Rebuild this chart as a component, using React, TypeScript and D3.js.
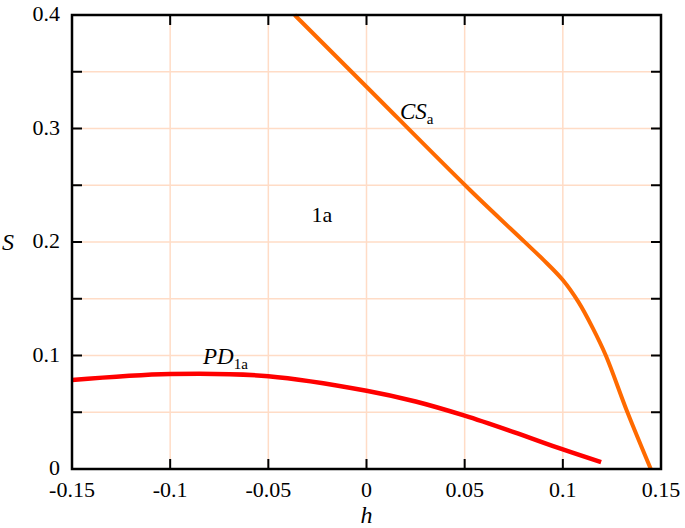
import { useRef, useEffect } from "react";
import * as d3 from "d3";

// CS_a boundary (h, S)
const csH = [-0.0366, 0.0, 0.0527, 0.0804, 0.09, 0.1, 0.108, 0.115, 0.1219, 0.1329, 0.1448];
const csS = [0.4, 0.3368, 0.2458, 0.2003, 0.1845, 0.1665, 0.147, 0.125, 0.1, 0.05, 0.0];

// PD_1a boundary (h, S)
const pdH = [-0.15, -0.1, -0.05, 0.0, 0.025, 0.05, 0.075, 0.1, 0.1195];
const pdS = [0.0784, 0.0837, 0.0818, 0.069, 0.0595, 0.047, 0.0325, 0.0172, 0.006];

const xTicks = [-0.15, -0.1, -0.05, 0, 0.05, 0.1, 0.15];
const xTickLabels = ["-0.15", "-0.1", "-0.05", "0", "0.05", "0.1", "0.15"];
const yTicks = [0, 0.1, 0.2, 0.3, 0.4];
const yTickLabels = ["0", "0.1", "0.2", "0.3", "0.4"];
const gridStep = 0.05;

const App = () => {
  const svgRef = useRef<SVGSVGElement>(null);

  useEffect(() => {
    const svg = d3.select(svgRef.current);
    svg.selectAll("*").remove();
    const W = 685;
    const H = 528;
    const m = { left: 72, top: 15, right: 24, bottom: 59 };

    const x = d3.scaleLinear().domain([-0.15, 0.15]).range([m.left, W - m.right]);
    const y = d3.scaleLinear().domain([0, 0.4]).range([H - m.bottom, m.top]);
    const font = "Liberation Serif, DejaVu Serif, Noto Serif, serif";

    const g = svg.append("g");
    const xGrid = d3.range(-0.15, 0.1501, gridStep);
    const yGrid = d3.range(0, 0.4001, gridStep);

    // grid
    g.selectAll(".gx")
      .data(xGrid)
      .join("line")
      .attr("x1", (d) => x(d))
      .attr("x2", (d) => x(d))
      .attr("y1", y(0))
      .attr("y2", y(0.4))
      .attr("stroke", "#ffdcc6")
      .attr("stroke-width", 1.5);
    g.selectAll(".gy")
      .data(yGrid)
      .join("line")
      .attr("x1", x(-0.15))
      .attr("x2", x(0.15))
      .attr("y1", (d) => y(d))
      .attr("y2", (d) => y(d))
      .attr("stroke", "#ffdcc6")
      .attr("stroke-width", 1.5);

    // ticks
    const tl = 10;
    xGrid.forEach((d) => {
      g.append("line").attr("x1", x(d)).attr("x2", x(d)).attr("y1", y(0)).attr("y2", y(0) - tl).attr("stroke", "#000").attr("stroke-width", 2);
      g.append("line").attr("x1", x(d)).attr("x2", x(d)).attr("y1", y(0.4)).attr("y2", y(0.4) + tl).attr("stroke", "#000").attr("stroke-width", 2);
    });
    yGrid.forEach((d) => {
      g.append("line").attr("x1", x(-0.15)).attr("x2", x(-0.15) + tl).attr("y1", y(d)).attr("y2", y(d)).attr("stroke", "#000").attr("stroke-width", 2);
      g.append("line").attr("x1", x(0.15)).attr("x2", x(0.15) - tl).attr("y1", y(d)).attr("y2", y(d)).attr("stroke", "#000").attr("stroke-width", 2);
    });

    // curves
    const line = d3
      .line<[number, number]>()
      .x((d) => x(d[0]))
      .y((d) => y(d[1]))
      .curve(d3.curveCatmullRom.alpha(0.5));

    g.append("path")
      .datum(csH.map((h, i) => [h, csS[i]] as [number, number]))
      .attr("d", line)
      .attr("fill", "none")
      .attr("stroke", "#ff6a00")
      .attr("stroke-width", 4);

    g.append("path")
      .datum(pdH.map((h, i) => [h, pdS[i]] as [number, number]))
      .attr("d", line)
      .attr("fill", "none")
      .attr("stroke", "#ff0000")
      .attr("stroke-width", 4.5);

    // frame
    g.append("rect")
      .attr("x", x(-0.15))
      .attr("y", y(0.4))
      .attr("width", x(0.15) - x(-0.15))
      .attr("height", y(0) - y(0.4))
      .attr("fill", "none")
      .attr("stroke", "#000")
      .attr("stroke-width", 2.5);

    // tick labels
    g.selectAll(".xl")
      .data(xTicks)
      .join("text")
      .attr("x", (d) => x(d))
      .attr("y", y(0) + 28)
      .attr("text-anchor", "middle")
      .attr("font-family", font)
      .attr("font-size", 22)
      .text((d, i) => xTickLabels[i]);
    g.selectAll(".yl")
      .data(yTicks)
      .join("text")
      .attr("x", x(-0.15) - 12)
      .attr("y", (d) => y(d) + 6)
      .attr("text-anchor", "end")
      .attr("font-family", font)
      .attr("font-size", 22)
      .text((d, i) => yTickLabels[i]);

    // axis titles
    g.append("text")
      .attr("x", x(0))
      .attr("y", H - 5)
      .attr("text-anchor", "middle")
      .attr("font-family", font)
      .attr("font-style", "italic")
      .attr("font-size", 24)
      .text("h");
    g.append("text")
      .attr("x", 8)
      .attr("y", y(0.2) + 8)
      .attr("text-anchor", "middle")
      .attr("font-family", font)
      .attr("font-style", "italic")
      .attr("font-size", 24)
      .text("S");

    // annotations
    g.append("text")
      .attr("x", 322)
      .attr("y", 222)
      .attr("text-anchor", "middle")
      .attr("font-family", font)
      .attr("font-size", 22)
      .text("1a");

    const cs = g.append("text").attr("x", 400).attr("y", 119).attr("font-family", font).attr("font-size", 23);
    cs.append("tspan").attr("font-style", "italic").text("CS");
    cs.append("tspan").attr("font-size", 15).attr("dy", 5).text("a");

    const pd = g.append("text").attr("x", 203).attr("y", 364).attr("font-family", font).attr("font-size", 23);
    pd.append("tspan").attr("font-style", "italic").text("PD");
    pd.append("tspan").attr("font-size", 15).attr("dy", 5).text("1a");
  }, []);

  return (
    <svg
      ref={svgRef}
      width={685}
      height={528}
      style={{ position: "absolute", left: 0, top: 0, background: "#fff" }}
    />
  );
};

export default App;
